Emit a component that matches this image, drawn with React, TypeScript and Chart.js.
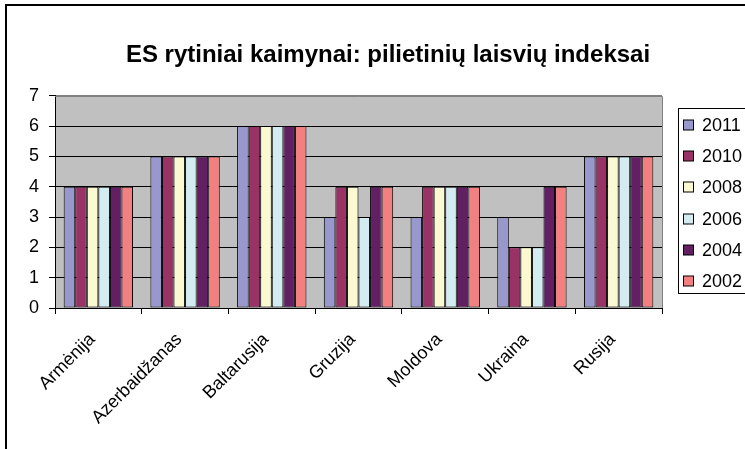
import React, { useEffect, useRef } from "react";
import { Chart, registerables } from "chart.js";

Chart.register(...registerables);

const categories = ["Armėnija", "Azerbaidžanas", "Baltarusija", "Gruzija", "Moldova", "Ukraina", "Rusija"];
const seriesNames = ["2011", "2010", "2008", "2006", "2004", "2002"];
const values2011 = [4, 5, 6, 3, 3, 3, 5];
const values2010 = [4, 5, 6, 4, 4, 2, 5];
const values2008 = [4, 5, 6, 4, 4, 2, 5];
const values2006 = [4, 5, 6, 3, 4, 2, 5];
const values2004 = [4, 5, 6, 4, 4, 4, 5];
const values2002 = [4, 5, 6, 4, 4, 4, 5];
const seriesValues = [values2011, values2010, values2008, values2006, values2004, values2002];
const seriesColors = ["#9898CC", "#993366", "#FAF9D2", "#D2ECF2", "#631F63", "#F28080"];
const yMin = 0;
const yMax = 7;
const yStep = 1;
const titleText = "ES rytiniai kaimynai: pilietinių laisvių indeksai";

const FONT = "'Liberation Sans', Arial, sans-serif";
const CANVAS_W = 776;
const CANVAS_H = 470;
const PLOT_RIGHT = 662;
const PLOT_BOTTOM = 308;

const framePlugin = {
  id: "excelFrame",
  beforeDraw(chart: any) {
    const { ctx, chartArea } = chart;
    ctx.save();
    ctx.fillStyle = "#FFFFFF";
    ctx.fillRect(0, 0, chart.width, chart.height);
    ctx.fillStyle = "#C0C0C0";
    ctx.fillRect(chartArea.left, chartArea.top, chartArea.right - chartArea.left, chartArea.bottom - chartArea.top);
    ctx.strokeStyle = "#000";
    ctx.lineWidth = 2;
    ctx.strokeRect(6, 5, chart.width + 20, chart.height + 20);
    ctx.restore();
  },
  afterDraw(chart: any) {
    const { ctx, chartArea } = chart;
    ctx.save();
    ctx.strokeStyle = "#808080";
    ctx.lineWidth = 1;
    ctx.beginPath();
    ctx.moveTo(chartArea.left, Math.round(chartArea.top) + 0.5);
    ctx.lineTo(Math.round(chartArea.right) + 0.5, Math.round(chartArea.top) + 0.5);
    ctx.lineTo(Math.round(chartArea.right) + 0.5, chartArea.bottom);
    ctx.stroke();

    // legend box
    const lx = Math.round(chartArea.right) + 16.5;
    const ly = 108.5;
    ctx.strokeStyle = "#000";
    ctx.strokeRect(lx, ly, 90, 185);
    ctx.font = "18px " + FONT;
    ctx.textBaseline = "middle";
    ctx.textAlign = "left";
    chart.data.datasets.forEach((ds: any, i: number) => {
      const cy = Math.round(125 + i * 31.2);
      ctx.fillStyle = ds.backgroundColor;
      ctx.fillRect(lx + 5, cy - 5, 10, 10);
      ctx.strokeStyle = "#000";
      ctx.strokeRect(lx + 5, cy - 5, 10, 10);
      ctx.fillStyle = "#000";
      ctx.fillText(ds.label, lx + 23.5, cy + 1);
    });
    ctx.restore();
  },
};

export default function App() {
  const canvasRef = useRef<HTMLCanvasElement | null>(null);

  useEffect(() => {
    const canvas = canvasRef.current;
    if (!canvas) return;
    const chart = new Chart(canvas, {
      type: "bar",
      data: {
        labels: categories,
        datasets: seriesNames.map((name, i) => ({
          label: name,
          data: seriesValues[i],
          backgroundColor: seriesColors[i],
          borderColor: "#000000",
          borderWidth: 1,
          borderSkipped: false,
          barPercentage: 1.0,
          categoryPercentage: 0.8,
          yAxisID: "y",
        })),
      },
      options: {
        animation: false,
        responsive: false,
        maintainAspectRatio: false,
        devicePixelRatio: 1,
        layout: { padding: { left: 0, right: 0, top: 0, bottom: 0 } },
        plugins: {
          legend: { display: false },
          tooltip: { enabled: false },
          title: {
            display: true,
            text: titleText,
            color: "#000",
            font: { family: FONT, size: 24, weight: "bold", lineHeight: 1.2 },
            padding: { top: 41, bottom: 26 },
          },
        },
        scales: {
          x: {
            grid: {
              display: true,
              drawOnChartArea: false,
              drawTicks: true,
              tickLength: 6,
              offset: true,
              color: "#000",
            },
            border: { display: true, color: "#000", width: 1 },
            ticks: {
              autoSkip: false,
              minRotation: 45,
              maxRotation: 45,
              padding: 15,
              labelOffset: -6,
              color: "#000",
              font: { family: FONT, size: 18 },
            },
            afterFit: (scale: any) => {
              scale.height = CANVAS_H - PLOT_BOTTOM;
            },
          },
          y: {
            position: "left",
            min: yMin,
            max: yMax,
            ticks: {
              stepSize: yStep,
              padding: 10,
              color: "#000",
              font: { family: FONT, size: 18 },
            },
            grid: {
              display: true,
              drawTicks: true,
              tickLength: 6,
              color: (ctx: any) => (ctx.tick && ctx.tick.value === yMax ? "#808080" : "#000"),
              tickColor: "#000",
              lineWidth: 1,
            },
            border: { display: true, color: "#000", width: 1 },
            afterFit: (scale: any) => {
              scale.width = 55;
            },
          },
          legendSpace: {
            type: "linear",
            position: "right",
            display: true,
            grid: { display: false, drawTicks: false },
            border: { display: false },
            ticks: { display: false },
            afterFit: (scale: any) => {
              scale.width = CANVAS_W - PLOT_RIGHT;
            },
          },
        },
      },
      plugins: [framePlugin],
    });
    return () => chart.destroy();
  }, []);

  return (
    <div style={{ position: "fixed", left: 0, top: 0, width: 745, height: 449, overflow: "hidden", background: "#fff" }}>
      <canvas
        ref={canvasRef}
        width={CANVAS_W}
        height={CANVAS_H}
        style={{ position: "absolute", left: 0, top: 0, width: CANVAS_W, height: CANVAS_H }}
      />
    </div>
  );
}
